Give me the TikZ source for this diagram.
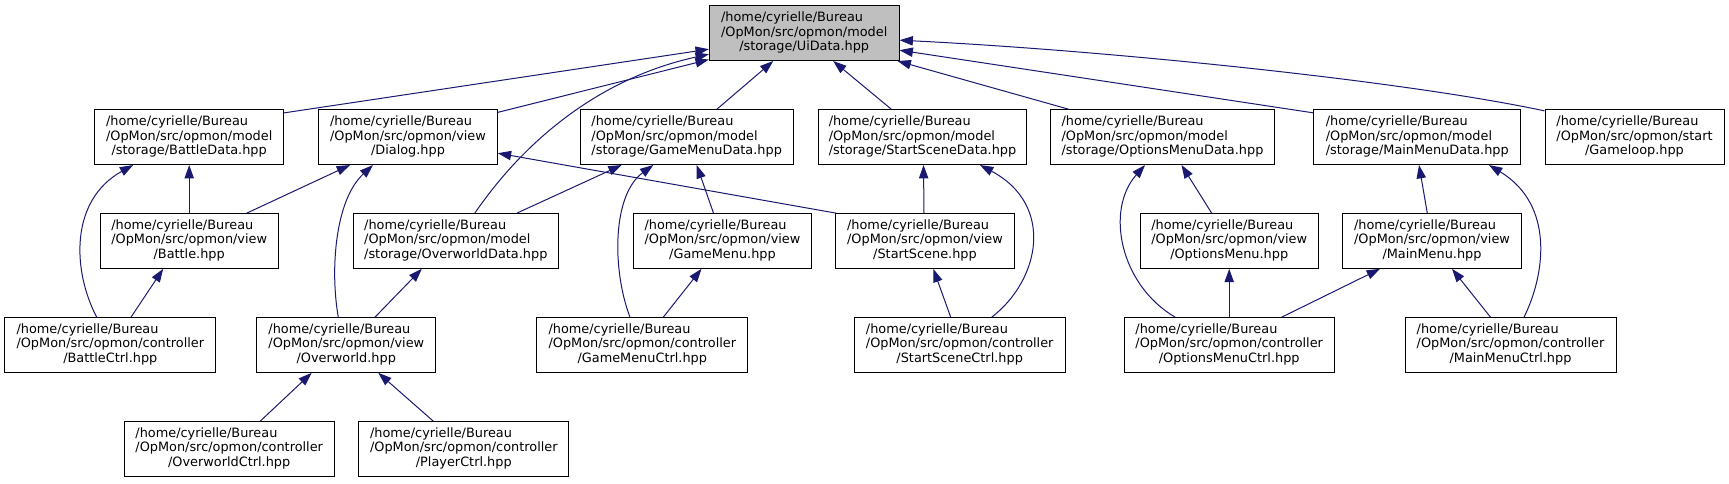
\documentclass[tikz,border=0pt]{standalone}
\usepackage{fontspec}
\setmainfont{DejaVu Sans}
\usepackage{xcolor}
\usetikzlibrary{arrows.meta,calc}
\definecolor{edgeblue}{HTML}{191970}
\definecolor{nodegray}{HTML}{BFBFBF}
\newcommand{\flabel}[2]{\begin{tabular}{@{}l@{}}/home/cyrielle/Bureau\\#1\\\multicolumn{1}{@{}c@{}}{#2}\end{tabular}}

\begin{document}
\begin{tikzpicture}[x=0.75pt,y=-0.75pt,>={Triangle[length=10pt,width=7pt]},
    filebox/.style={draw=black,line width=0.75pt,inner sep=0pt,minimum height=41pt,minimum width=#1*0.75pt,font=\fontsize{9.65}{10.9}\selectfont},
    dep/.style={->,edgeblue,line width=0.75pt}]
    \useasboundingbox (0,0) rectangle (1729,483);
    \node[filebox=189.7,fill=nodegray] (ui) at (804.2,33.2) {\flabel{/OpMon/src/opmon/model}{/storage/UiData.hpp}};
    \node[filebox=189] (battledata) at (189.2,137.2) {\flabel{/OpMon/src/opmon/model}{/storage/BattleData.hpp}};
    \node[filebox=178.6] (dialog) at (408,137.2) {\flabel{/OpMon/src/opmon/view}{/Dialog.hpp}};
    \node[filebox=213.3] (gamemenudata) at (686.7,137.2) {\flabel{/OpMon/src/opmon/model}{/storage/GameMenuData.hpp}};
    \node[filebox=208.4] (startscenedata) at (922.5,137.2) {\flabel{/OpMon/src/opmon/model}{/storage/StartSceneData.hpp}};
    \node[filebox=223.6] (optionsmenudata) at (1162.5,137.2) {\flabel{/OpMon/src/opmon/model}{/storage/OptionsMenuData.hpp}};
    \node[filebox=206.7] (mainmenudata) at (1417.3,137.2) {\flabel{/OpMon/src/opmon/model}{/storage/MainMenuData.hpp}};
    \node[filebox=179] (gameloop) at (1634.5,137.2) {\flabel{/OpMon/src/opmon/start}{/Gameloop.hpp}};
    \node[filebox=178.3] (battle) at (189.2,241) {\flabel{/OpMon/src/opmon/view}{/Battle.hpp}};
    \node[filebox=205] (overworlddata) at (455.8,241) {\flabel{/OpMon/src/opmon/model}{/storage/OverworldData.hpp}};
    \node[filebox=178.4] (gamemenu) at (722.5,241) {\flabel{/OpMon/src/opmon/view}{/GameMenu.hpp}};
    \node[filebox=178.6] (startscene) at (925,241) {\flabel{/OpMon/src/opmon/view}{/StartScene.hpp}};
    \node[filebox=178.3] (optionsmenu) at (1229.2,241) {\flabel{/OpMon/src/opmon/view}{/OptionsMenu.hpp}};
    \node[filebox=178.8] (mainmenu) at (1432,241) {\flabel{/OpMon/src/opmon/view}{/MainMenu.hpp}};
    \node[filebox=211.3] (battlectrl) at (110.3,345) {\flabel{/OpMon/src/opmon/controller}{/BattleCtrl.hpp}};
    \node[filebox=178.7] (overworld) at (346.3,345) {\flabel{/OpMon/src/opmon/view}{/Overworld.hpp}};
    \node[filebox=210.7] (gamemenuctrl) at (642.3,345) {\flabel{/OpMon/src/opmon/controller}{/GameMenuCtrl.hpp}};
    \node[filebox=210.7] (startscenectrl) at (959.7,345) {\flabel{/OpMon/src/opmon/controller}{/StartSceneCtrl.hpp}};
    \node[filebox=210.3] (optionsmenuctrl) at (1229.2,345) {\flabel{/OpMon/src/opmon/controller}{/OptionsMenuCtrl.hpp}};
    \node[filebox=211] (mainmenuctrl) at (1510.5,345) {\flabel{/OpMon/src/opmon/controller}{/MainMenuCtrl.hpp}};
    \node[filebox=210.3] (overworldctrl) at (229.2,449) {\flabel{/OpMon/src/opmon/controller}{/OverworldCtrl.hpp}};
    \node[filebox=210.3] (playerctrl) at (463.8,449) {\flabel{/OpMon/src/opmon/controller}{/PlayerCtrl.hpp}};

    \draw[dep] ($(battledata.north east)+(0,3.5)$) -- ($(ui.west)+(0,16)$);
    \draw[dep] ($(dialog.north east)+(0,3)$) -- ($(ui.south west)+(0,-1.5)$);
    \draw[dep] ($(overworlddata.north)+(19,0)$) .. controls (525,140) and (600,78) .. ($(ui.west)+(0,21)$);
    \draw[dep] ($(gamemenudata.north)+(30,0)$) -- ($(ui.south)+(-31,0)$);
    \draw[dep] ($(startscenedata.north)+(-31,0)$) -- ($(ui.south)+(29,0)$);
    \draw[dep] ($(optionsmenudata.north west)+(19,0)$) -- ($(ui.south east)+(-2,0)$);
    \draw[dep] ($(mainmenudata.north west)+(0,3.5)$) -- ($(ui.east)+(0,17)$);
    \draw[dep] ($(gameloop.north west)+(0,1.5)$) .. controls (1400,80) and (1100,50) .. ($(ui.east)+(0,7)$);
    \draw[dep] ($(battle.north)+(57.5,0)$) -- ($(dialog.south)+(-58,0)$);
    \draw[dep] ($(overworld.north)+(-8,0)$) .. controls (330,270) and (335,200) .. ($(dialog.south)+(-35,0)$);
    \draw[dep] ($(startscene.north west)+(1,0)$) -- ($(dialog.east)+(0,16)$);
    \draw[dep] (battle.north) -- (battledata.south);
    \draw[dep] ($(battlectrl.north)+(-13.6,0)$) .. controls (72,270) and (70,200) .. ($(battledata.south)+(-56,0)$);
    \draw[dep] ($(battlectrl.north)+(20.7,0)$) -- ($(battle.south)+(-26,0)$);
    \draw[dep] ($(overworlddata.north)+(61,0)$) -- ($(gamemenudata.south)+(-65,0)$);
    \draw[dep] ($(gamemenuctrl.north)+(-12.3,0)$) .. controls (612,270) and (612,195) .. ($(gamemenudata.south)+(-33.4,0)$);
    \draw[dep] ($(gamemenu.north)+(-9,0)$) -- ($(gamemenudata.south)+(10,0)$);
    \draw[dep] ($(overworld.north)+(28.7,0)$) -- ($(overworlddata.south)+(-34,0)$);
    \draw[dep] ($(gamemenuctrl.north)+(21,0)$) -- ($(gamemenu.south)+(-21,0)$);
    \draw[dep] ($(startscene.north)+(-1,0)$) -- ($(startscenedata.south)+(1,0)$);
    \draw[dep] ($(startscenectrl.north)+(32,0)$) .. controls (1040,280) and (1055,205) .. ($(startscenedata.south)+(57.5,0)$);
    \draw[dep] ($(startscenectrl.north)+(-9,0)$) -- ($(startscene.south)+(8.3,0)$);
    \draw[dep] ($(optionsmenuctrl.north)+(-54,0)$) .. controls (1120,285) and (1105,210) .. ($(optionsmenudata.south)+(-17.5,0)$);
    \draw[dep] ($(optionsmenu.north)+(-17.5,0)$) -- ($(optionsmenudata.south)+(19,0)$);
    \draw[dep] (optionsmenuctrl.north) -- (optionsmenu.south);
    \draw[dep] ($(optionsmenuctrl.north)+(52.5,0)$) -- ($(mainmenu.south)+(-52,0)$);
    \draw[dep] ($(mainmenuctrl.north)+(-20,0)$) -- ($(mainmenu.south)+(20,0)$);
    \draw[dep] ($(mainmenu.north)+(-4.7,0)$) -- ($(mainmenudata.south)+(1.7,0)$);
    \draw[dep] ($(mainmenuctrl.north)+(13.5,0)$) .. controls (1545,275) and (1555,205) .. ($(mainmenudata.south)+(71.7,0)$);
    \draw[dep] ($(overworldctrl.north)+(31,0)$) -- ($(overworld.south)+(-34.6,0)$);
    \draw[dep] ($(playerctrl.north)+(-30.5,0)$) -- ($(overworld.south)+(32,0)$);
  \end{tikzpicture}
\end{document}
